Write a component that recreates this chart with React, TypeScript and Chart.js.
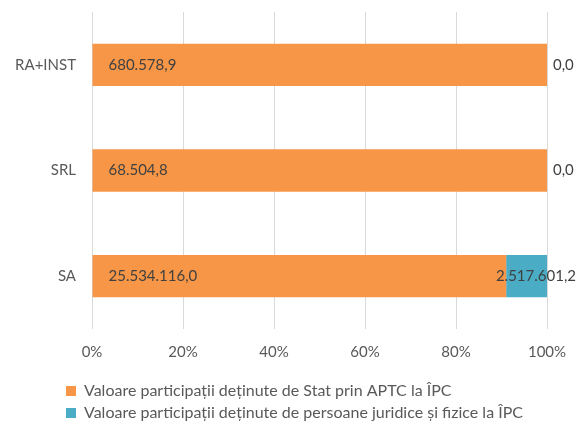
import React, { useEffect, useRef } from "react";
import { Chart, registerables } from "chart.js";

Chart.register(...registerables);

const categories = ["RA+INST", "SRL", "SA"];
const seriesNames = [
  "Valoare participații deținute de Stat prin APTC la ÎPC",
  "Valoare participații deținute de persoane juridice și fizice la ÎPC",
];
const stateValues = [680578.9, 68504.8, 25534116.0];
const privateValues = [0.0, 0.0, 2517601.2];
const xTicks = [0, 20, 40, 60, 80, 100];
const colors = ["#F79646", "#4BACC6"];

const FONT = "Lato, 'Open Sans', sans-serif";

function fmt(v: number): string {
  const [i, d] = v.toFixed(1).split(".");
  return i.replace(/\B(?=(\d{3})+(?!\d))/g, ".") + "," + d;
}

const rawSeries = [stateValues, privateValues];

const labelPlugin = {
  id: "valueLabels",
  afterDatasetsDraw(chart: any) {
    const ctx = chart.ctx;
    ctx.save();
    ctx.font = `15px ${FONT}`;
    ctx.fillStyle = "#404040";
    ctx.textBaseline = "middle";
    ctx.textAlign = "left";
    chart.data.datasets.forEach((ds: any, di: number) => {
      const meta = chart.getDatasetMeta(di);
      meta.data.forEach((el: any, i: number) => {
        const txt = fmt(rawSeries[di][i]);
        const w = ctx.measureText(txt).width;
        const base = Math.min(el.base, el.x);
        let x: number;
        if (di === 0) x = base + 16;
        else x = Math.min(base + 6, chart.width - w);
        ctx.fillText(txt, x, el.y);
      });
    });
    ctx.restore();
  },
};

const legendShift = {
  id: "legendShift",
  afterLayout(chart: any) {
    const lg = chart.legend;
    if (lg) {
      lg.left = 60;
      lg.top = 377;
      lg.bottom = chart.height;
      lg.height = lg.bottom - lg.top;
      lg.width = lg.right - lg.left;
    }
  },
};

export default function App() {
  const ref = useRef<HTMLCanvasElement | null>(null);
  useEffect(() => {
    if (!ref.current) return;
    const totals = categories.map((_, i) => stateValues[i] + privateValues[i]);
    const chart = new Chart(ref.current, {
      type: "bar",
      data: {
        labels: categories,
        datasets: rawSeries.map((arr, di) => ({
          label: seriesNames[di],
          data: arr.map((v, i) => (v / totals[i]) * 100),
          backgroundColor: colors[di],
          borderWidth: 0,
          categoryPercentage: 1,
          barPercentage: 0.4,
        })),
      },
      options: {
        indexAxis: "y",
        animation: false,
        responsive: false,
        maintainAspectRatio: false,
        layout: { padding: { left: 0, top: 12, right: 0, bottom: 0 } },
        plugins: {
          legend: {
            position: "bottom",
            align: "start",
            labels: {
              boxWidth: 10,
              boxHeight: 10,
              padding: 6,
              color: "#595959",
              font: { family: FONT, size: 16 },
            },
          },
          tooltip: { enabled: false },
        },
        scales: {
          x: {
            stacked: true,
            min: 0,
            max: 100,
            afterBuildTicks: (s: any) => {
              s.ticks = xTicks.map((v) => ({ value: v }));
            },
            afterFit: (s: any) => {
              s.height = 38;
              s.paddingRight = 29;
              s.paddingLeft = 0;
            },
            ticks: {
              callback: (v: any) => v + "%",
              color: "#595959",
              font: { family: FONT, size: 15 },
              padding: 14,
              maxRotation: 0,
            },
            grid: { color: "#d9d9d9", drawTicks: false },
            border: { display: false },
          },
          y: {
            stacked: true,
            afterFit: (s: any) => {
              s.width = 92;
              s.paddingTop = 0;
              s.paddingBottom = 0;
            },
            ticks: {
              color: "#595959",
              font: { family: FONT, size: 15 },
              padding: 16,
            },
            grid: { display: false, drawTicks: false },
            border: { display: false },
          },
        },
      },
      plugins: [labelPlugin, legendShift],
    });
    return () => chart.destroy();
  }, []);
  return (
    <div style={{ position: "fixed", left: 0, top: 0, width: 576, height: 421, background: "#fff" }}>
      <canvas ref={ref} width={576} height={421} style={{ display: "block", width: 576, height: 421 }} />
    </div>
  );
}
